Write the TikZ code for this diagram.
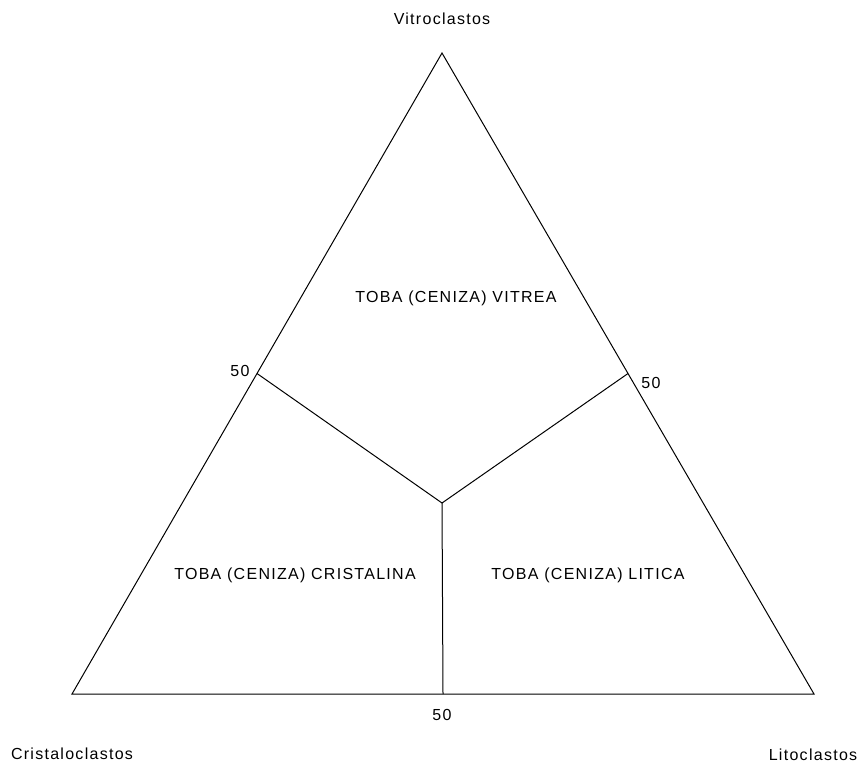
\documentclass[tikz,border=0pt]{standalone}
\usepackage{fontspec}
\setmainfont{Liberation Sans}[LetterSpace=8]
\usetikzlibrary{calc}

\begin{document}
\begin{tikzpicture}[x=1pt, y=-1pt, >=latex,
  fieldtext/.style={font=\fontsize{16}{19}\selectfont, inner sep=0pt, anchor=base}]

  %% ---- Frame ----
  \useasboundingbox (0,0) rectangle (866,764);

  %% ---- Vertices ----
  \coordinate (vitro) at (442,53);
  \coordinate (crist) at (72,694);
  \coordinate (lito)  at (814,694);

  %% ---- Derived: 50 points and meeting point ----
  \coordinate (vc) at ($(vitro)!0.5!(crist)$);
  \coordinate (vl) at ($(vitro)!0.5!(lito)$);
  \coordinate (cl) at ($(crist)!0.5!(lito)$);
  \coordinate (meet) at (442,503);

  %% ---- Triangle ----
  \draw[line width=1pt] (vitro) -- (crist) -- (lito) -- cycle;

  %% ---- Field boundaries ----
  \draw[line width=1pt] (vc) -- (meet);
  \draw[line width=1pt] (vl) -- (meet);
  \draw[line width=1pt] (cl) -- (meet);

  %% ---- Corner names ----
  \node[fieldtext] (vitrolbl) at (442,24)  {Vitroclastos};
  \node[fieldtext] (cristlbl) at (72,759)  {Cristaloclastos};
  \node[fieldtext] (litolbl)  at (813,760) {Litoclastos};

  %% ---- 50 marks ----
  \node[fieldtext] (vcnum) at (240,376)   {50};
  \node[fieldtext] (vlnum) at (651,388)   {50};
  \node[fieldtext] (clnum) at (442,720.5) {50};

  %% ---- Field names ----
  \node[fieldtext] (vitrea)     at (456,302) {TOBA (CENIZA) VITREA};
  \node[fieldtext] (cristalina) at (295,579) {TOBA (CENIZA) CRISTALINA};
  \node[fieldtext] (litica)     at (588,579) {TOBA (CENIZA) LITICA};

\end{tikzpicture}
\end{document}
